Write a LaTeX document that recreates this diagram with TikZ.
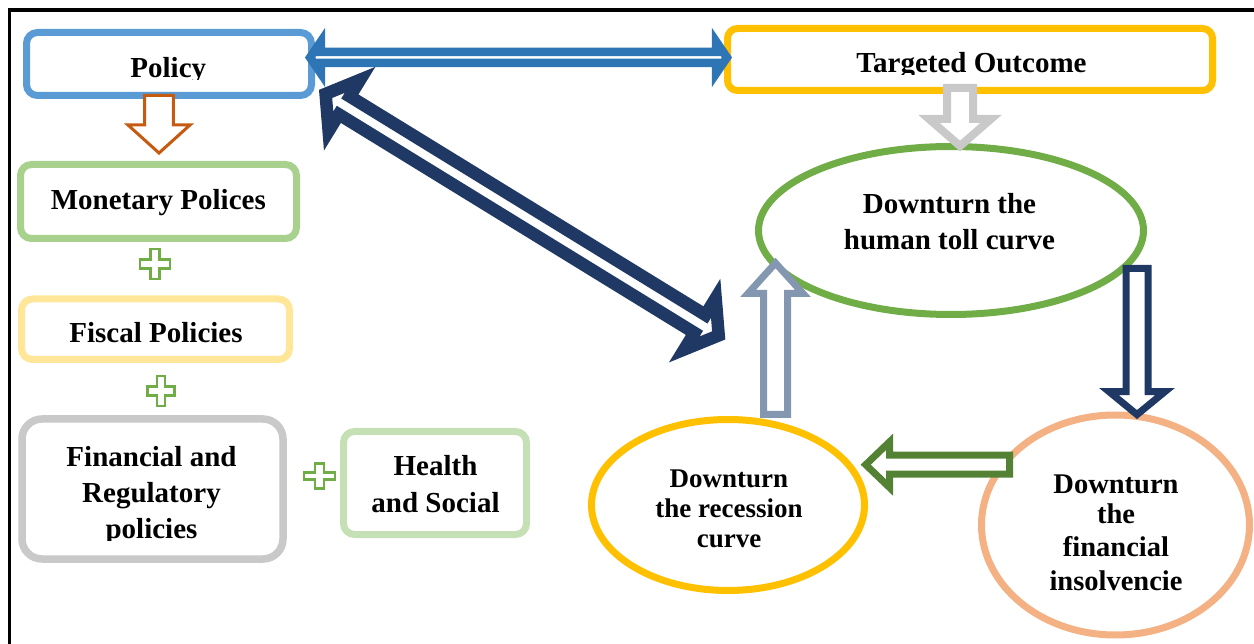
\documentclass[tikz,border=0pt]{standalone}
\usepackage{fontspec}
\setmainfont{Liberation Serif}
\usetikzlibrary{calc,shapes.geometric}

\definecolor{policyblue}{HTML}{5B9BD5}
\definecolor{linkblue}{HTML}{2E75B6}
\definecolor{gold}{HTML}{FFC000}
\definecolor{mintgreen}{HTML}{A9D18E}
\definecolor{paleyellow}{HTML}{FFE699}
\definecolor{silver}{HTML}{C9C9C9}
\definecolor{palegreen}{HTML}{C5E0B4}
\definecolor{leafgreen}{HTML}{70AD47}
\definecolor{rust}{HTML}{C55A11}
\definecolor{navyblue}{HTML}{1F3864}
\definecolor{slateblue}{HTML}{8497B0}
\definecolor{darkgreen}{HTML}{548235}
\definecolor{salmon}{HTML}{F4B183}

% hollow block arrow with one head:
% #1 style, #2 tail, #3 tip, #4 shaft half-width, #5 head half-width, #6 head length
\newcommand\blockarrow[6]{%
  \coordinate (hb) at ($(#3)!#6!(#2)$);
  \draw[#1] ($(#2)!#4!90:(#3)$) -- ($(hb)!#4!-90:(#2)$) -- ($(hb)!#5!-90:(#2)$) -- (#3)
    -- ($(hb)!#5!90:(#2)$) -- ($(hb)!#4!90:(#2)$) -- ($(#2)!#4!-90:(#3)$) -- cycle;}

% hollow block arrow with a head at both ends
\newcommand\twinarrow[6]{%
  \coordinate (hbA) at ($(#2)!#6!(#3)$);
  \coordinate (hbB) at ($(#3)!#6!(#2)$);
  \draw[#1] (#2) -- ($(hbA)!#5!90:(#3)$) -- ($(hbA)!#4!90:(#3)$)
    -- ($(hbB)!#4!-90:(#2)$) -- ($(hbB)!#5!-90:(#2)$) -- (#3)
    -- ($(hbB)!#5!90:(#2)$) -- ($(hbB)!#4!90:(#2)$)
    -- ($(hbA)!#4!-90:(#3)$) -- ($(hbA)!#5!-90:(#3)$) -- cycle;}

\tikzset{
  panel/.style={draw=#1, rounded corners=11pt, line width=7pt, fill=white, inner sep=0pt},
  oval/.style={draw=#1, ellipse, line width=7pt, fill=white, inner sep=0pt},
  % multi-line labels sit on the baseline of their last line
  lbl/.style={font=\bfseries\fontsize{29}{36}\selectfont, align=center, anchor=base, inner sep=0pt},
  hollow/.style={draw=#1, fill=white, line join=miter},
  plusmark/.pic={\draw[pic actions] (-4.5,-15) -- (4.5,-15) -- (4.5,-4.5) -- (15,-4.5)
      -- (15,4.5) -- (4.5,4.5) -- (4.5,15) -- (-4.5,15) -- (-4.5,4.5) -- (-15,4.5)
      -- (-15,-4.5) -- (-4.5,-4.5) -- cycle;},
  plusstyle/.style={draw=leafgreen, line width=2.6pt, fill=white}
}

\begin{document}
\begin{tikzpicture}[x=1pt, y=-1pt]
\useasboundingbox (0,0) rectangle (1254,644);

% frame
\draw[line width=3.5pt] (9.5,644) -- (9.5,10) -- (1254,10);

% policy column
\node[panel=policyblue, minimum width=285, minimum height=63] (policy) at (169,64) {};
\node[panel=mintgreen, minimum width=276, minimum height=74] (monetary) at (158.5,201.5) {};
\node[panel=paleyellow, minimum width=268, minimum height=60.5] (fiscal) at (155.5,329.25) {};
\node[panel=silver, rounded corners=20pt, line width=7.5pt, minimum width=261, minimum height=140] (financial) at (152.5,489) {};
\node[panel=palegreen, minimum width=183, minimum height=103] (health) at (435,483) {};

\begin{scope}
  \clip (30,36) rectangle (308,79.5);
  \node[lbl] (policyT) at (168.3,77.3) {Policy};
\end{scope}
\node[lbl] (monetaryT) at (158.3,209.3) {Monetary Polices};
\node[lbl] (fiscalT) at (156,343) {Fiscal Policies};
\begin{scope}
  \clip (26,423) rectangle (279,540);
  \node[lbl] (financialT) at (151.5,538) {Financial and\\Regulatory\\policies};
\end{scope}
\node[lbl, font=\bfseries\fontsize{29}{37}\selectfont] (healthT) at (435.5,512) {Health\\and Social};

\pic[plusstyle, xscale=1.0] (plusA) at (155,264) {plusmark};
\pic[plusstyle, xscale=0.9] (plusB) at (161,391) {plusmark};
\pic[plusstyle, xscale=1.03, yscale=0.83] (plusC) at (319.5,476) {plusmark};

% outcome side
\node[panel=gold, rounded corners=10pt, minimum width=485, minimum height=62] (target) at (970,59.5) {};
\begin{scope}
  \clip (732,33) rectangle (1208,74.5);
  \node[lbl] (targetT) at (971.5,73) {Targeted Outcome};
\end{scope}

\node[oval=leafgreen, minimum width=385, minimum height=168] (human) at (951,230.5) {};
\node[lbl] (humanT) at (949.5,250) {Downturn the\\human toll curve};

\node[oval=gold, minimum width=273, minimum height=171] (recession) at (728,505) {};
\node[lbl, font=\bfseries\fontsize{27}{30}\selectfont] (recessionT) at (729,547) {Downturn\\the recession\\curve};

\node[oval=salmon, minimum width=268, minimum height=220] (insolv) at (1115.5,525) {};
\node[lbl, font=\bfseries\fontsize{28.5}{33.5}\selectfont] (insolvT) at (1116,590) {Downturn\\[-4pt]the\\financial\\insolvencie};

% block arrows
\coordinate (orA) at (159,95.5);  \coordinate (orB) at (159,153);
\blockarrow{hollow=rust, line width=3pt}{orA}{orB}{14.3pt}{31pt}{28pt}

\coordinate (blA) at (310.1,57.5); \coordinate (blB) at (726.9,57.5);
\twinarrow{hollow=linkblue, line width=8.5pt}{blA}{blB}{5.5pt}{15.75pt}{10.7pt}

\coordinate (dgA) at (325.6,93.9); \coordinate (dgB) at (718.7,335.4);
\twinarrow{hollow=navyblue, line width=12.5pt}{dgA}{dgB}{10.5pt}{30pt}{22pt}

\coordinate (gyA) at (960,88); \coordinate (gyB) at (960,146);
\blockarrow{hollow=silver, line width=8pt}{gyA}{gyB}{13pt}{31pt}{27pt}

\coordinate (upA) at (775.5,414.5); \coordinate (upB) at (775.5,263);
\blockarrow{hollow=slateblue, line width=7pt}{upA}{upB}{12pt}{27.5pt}{30.5pt}

\coordinate (dnA) at (1137,268.5); \coordinate (dnB) at (1137,414.6);
\blockarrow{hollow=navyblue, line width=7pt}{dnA}{dnB}{11pt}{28pt}{23pt}

\coordinate (lfA) at (1009.5,464.7); \coordinate (lfB) at (865.7,464.7);
\blockarrow{hollow=darkgreen, line width=7pt}{lfA}{lfB}{9.5pt}{23pt}{24pt}
\end{tikzpicture}
\end{document}
